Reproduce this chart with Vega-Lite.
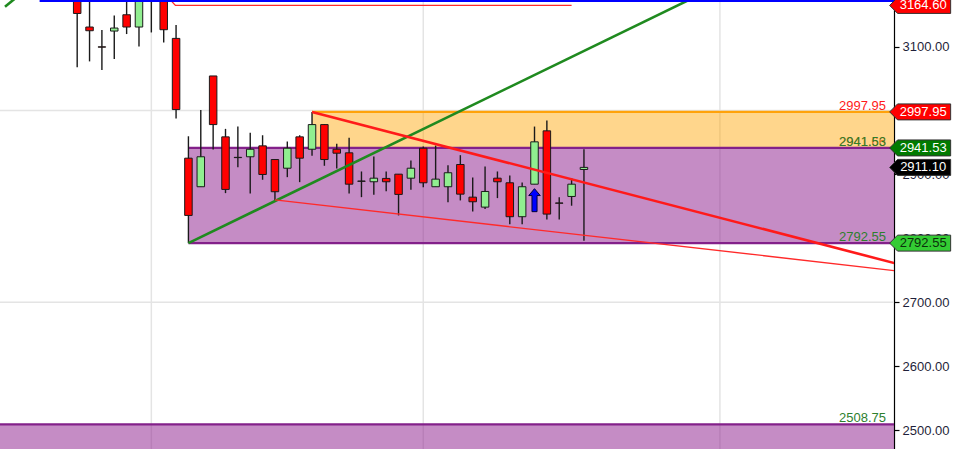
{
  "$schema": "https://vega.github.io/schema/vega-lite/v6.json",
  "width": 894,
  "height": 449,
  "autosize": {"type": "none"},
  "padding": {"left": 0, "top": 0, "right": 80, "bottom": 0},
  "background": "white",
  "config": {"view": {"stroke": null}, "font": "Liberation Sans"},
  "datasets": {
    "candles": [
      {"i": 0, "o": 3200, "h": 3215, "l": 3067.7, "c": 3152.0},
      {"i": 1, "o": 3130.8, "h": 3185, "l": 3077.0, "c": 3125.0},
      {"i": 2, "o": 3099.8, "h": 3126.1, "l": 3063.6, "c": 3099.3},
      {"i": 3, "o": 3124.5, "h": 3148.9, "l": 3080.8, "c": 3129.2},
      {"i": 4, "o": 3150.0, "h": 3180, "l": 3119.8, "c": 3130.8},
      {"i": 5, "o": 3130.8, "h": 3195, "l": 3100.5, "c": 3185},
      {"i": 6, "o": 3190, "h": 3200, "l": 3122.3, "c": 3180},
      {"i": 7, "o": 3190, "h": 3200, "l": 3106.7, "c": 3126.6},
      {"i": 8, "o": 3113.0, "h": 3133.9, "l": 2987.5, "c": 3001.6},
      {"i": 9, "o": 2925.5, "h": 2959.8, "l": 2792.55, "c": 2835.9},
      {"i": 10, "o": 2880.8, "h": 3001.1, "l": 2880.8, "c": 2927.7},
      {"i": 11, "o": 3054.2, "h": 3054.2, "l": 2939.1, "c": 2978.1},
      {"i": 12, "o": 2958.9, "h": 2971.4, "l": 2870.8, "c": 2876.6},
      {"i": 13, "o": 2926.8, "h": 2975.0, "l": 2911.4, "c": 2926.4},
      {"i": 14, "o": 2927.7, "h": 2965.2, "l": 2870.3, "c": 2939.5},
      {"i": 15, "o": 2944.8, "h": 2961.4, "l": 2891.7, "c": 2900.0},
      {"i": 16, "o": 2923.4, "h": 2923.4, "l": 2859.4, "c": 2873.0},
      {"i": 17, "o": 2909.8, "h": 2951.6, "l": 2895.8, "c": 2941.1},
      {"i": 18, "o": 2958.9, "h": 2961.4, "l": 2888.0, "c": 2925.5},
      {"i": 19, "o": 2939.5, "h": 2997.95, "l": 2929.2, "c": 2978.1},
      {"i": 20, "o": 2978.1, "h": 2978.5, "l": 2913.6, "c": 2923.4},
      {"i": 21, "o": 2939.5, "h": 2948.0, "l": 2909.4, "c": 2933.3},
      {"i": 22, "o": 2933.9, "h": 2957.3, "l": 2870.3, "c": 2884.8},
      {"i": 23, "o": 2889.7, "h": 2904.7, "l": 2864.5, "c": 2889.3},
      {"i": 24, "o": 2888.6, "h": 2928.1, "l": 2868.3, "c": 2894.2},
      {"i": 25, "o": 2893.8, "h": 2904.7, "l": 2873.9, "c": 2888.6},
      {"i": 26, "o": 2900.5, "h": 2900.5, "l": 2835.9, "c": 2868.8},
      {"i": 27, "o": 2894.2, "h": 2921.9, "l": 2876.1, "c": 2909.8},
      {"i": 28, "o": 2941.1, "h": 2943.75, "l": 2880.2, "c": 2887.0},
      {"i": 29, "o": 2880.8, "h": 2945.3, "l": 2880.8, "c": 2892.7},
      {"i": 30, "o": 2880.8, "h": 2914.5, "l": 2856.7, "c": 2902.7},
      {"i": 31, "o": 2915.6, "h": 2930.2, "l": 2859.4, "c": 2869.2},
      {"i": 32, "o": 2864.5, "h": 2895.3, "l": 2842.2, "c": 2857.3},
      {"i": 33, "o": 2848.9, "h": 2912.5, "l": 2845.8, "c": 2873.4},
      {"i": 34, "o": 2894.2, "h": 2904.7, "l": 2863.0, "c": 2888.6},
      {"i": 35, "o": 2887.0, "h": 2898.4, "l": 2821.9, "c": 2833.9},
      {"i": 36, "o": 2833.9, "h": 2887.5, "l": 2821.9, "c": 2880.8},
      {"i": 37, "o": 2884.8, "h": 2975.0, "l": 2884.8, "c": 2951.1},
      {"i": 38, "o": 2968.3, "h": 2984.4, "l": 2829.7, "c": 2838.0},
      {"i": 39, "o": 2855.4, "h": 2864.5, "l": 2829.7, "c": 2855.0},
      {"i": 40, "o": 2865.6, "h": 2894.2, "l": 2851.1, "c": 2884.8},
      {"i": 41, "o": 2907.8, "h": 2939.5, "l": 2796.4, "c": 2911.1}
    ],
    "vgrid": [{"i": 6}, {"i": 28}, {"i": 52}],
    "hgrid": [{"p": 3000}, {"p": 2700}],
    "zones": [
      {"name": "orange", "i1": 19, "i2": 70, "p1": 2941.53, "p2": 2997.95},
      {"name": "purple", "i1": 9, "i2": 70, "p1": 2792.55, "p2": 2941.53},
      {"name": "purple", "i1": -10, "i2": 70, "p1": 2400, "p2": 2508.75}
    ],
    "borders": [
      {"name": "orange", "i1": 19, "i2": 70, "p": 2997.95},
      {"name": "purple", "i1": 9, "i2": 70, "p": 2941.53},
      {"name": "purple", "i1": 9, "i2": 70, "p": 2792.55},
      {"name": "purple", "i1": -10, "i2": 70, "p": 2508.75}
    ],
    "lines": [
      {"name": "blue", "i": -3.04, "p": 3171.5},
      {"name": "blue", "i": 70, "p": 3171.5},
      {"name": "redtop", "i": 7.5, "p": 3174},
      {"name": "redtop", "i": 7.95, "p": 3164.6},
      {"name": "redtop", "i": 40, "p": 3164.6},
      {"name": "green", "i": 9, "p": 2792.55},
      {"name": "green", "i": 50, "p": 3177.95},
      {"name": "green0", "i": -5.84, "p": 3162.6},
      {"name": "green0", "i": -4.5, "p": 3183.8},
      {"name": "redthick", "i": 19, "p": 2997.95},
      {"name": "redthick", "i": 70, "p": 2741.8},
      {"name": "redthin", "i": 16, "p": 2860.1},
      {"name": "redthin", "i": 70, "p": 2741.0}
    ],
    "arrows": [{"i": 37, "p": 2859.8}],
    "tags": [
      {"label": "2997.95", "p": 2997.95, "kind": "red"},
      {"label": "2941.66", "p": 2941.66, "kind": "orange"},
      {"label": "2941.53", "p": 2941.53, "kind": "green"},
      {"label": "2792.55", "p": 2792.55, "kind": "green"},
      {"label": "2508.75", "p": 2508.75, "kind": "green"}
    ],
    "badges": [
      {"label": "3164.60", "p": 3164.6, "kind": "red"},
      {"label": "2997.95", "p": 2997.95, "kind": "red"},
      {"label": "2941.53", "p": 2941.53, "kind": "dkgreen"},
      {"label": "2911.10", "p": 2911.1, "kind": "black"},
      {"label": "2792.55", "p": 2792.55, "kind": "ltgreen"}
    ]
  },
  "layer": [
    {
      "data": {"name": "vgrid"},
      "mark": {"type": "rule", "color": "#e4e4e4", "strokeWidth": 1.5},
      "encoding": {
        "x": {"field": "i", "type": "quantitative", "scale": {"domain": [-5.84, 65.68], "nice": false, "zero": false}, "axis": null}
      }
    },
    {
      "data": {"name": "hgrid"},
      "mark": {"type": "rule", "color": "#e4e4e4", "strokeWidth": 1.5},
      "encoding": {
        "y": {"field": "p", "type": "quantitative", "title": null,
          "scale": {"domain": [2470.3, 3173.1], "nice": false, "zero": false},
          "axis": {"orient": "right", "values": [2500, 2600, 2700, 2800, 2900, 3000, 3100], "format": ".2f", "title": null, "grid": false,
            "labelFontSize": 13, "labelColor": "#1f1f3a", "labelFont": "Liberation Sans", "labelPadding": 3,
            "tickColor": "#000000", "tickSize": 5, "tickWidth": 1.2, "domainColor": "#000000", "domainWidth": 1.2}}
      }
    },
    {
      "data": {"name": "zones"},
      "mark": {"type": "rect", "clip": true},
      "encoding": {
        "x": {"field": "i1", "type": "quantitative", "scale": {"domain": [-5.84, 65.68], "nice": false, "zero": false}, "axis": null},
        "x2": {"field": "i2"},
        "y": {"field": "p1", "type": "quantitative", "title": null, "scale": {"domain": [2470.3, 3173.1], "nice": false, "zero": false}},
        "y2": {"field": "p2"},
        "fill": {"condition": {"test": "datum.name === 'orange'", "value": "#FFA500"}, "value": "#8B1A8B"},
        "fillOpacity": {"condition": {"test": "datum.name === 'orange'", "value": 0.45}, "value": 0.5}
      }
    },
    {
      "data": {"name": "borders"},
      "mark": {"type": "rule", "clip": true, "strokeWidth": 2.2},
      "encoding": {
        "x": {"field": "i1", "type": "quantitative", "scale": {"domain": [-5.84, 65.68], "nice": false, "zero": false}, "axis": null},
        "x2": {"field": "i2"},
        "y": {"field": "p", "type": "quantitative", "title": null, "scale": {"domain": [2470.3, 3173.1], "nice": false, "zero": false}},
        "color": {"condition": {"test": "datum.name === 'orange'", "value": "#FFA20A"}, "value": "#83208A"}
      }
    },
    {
      "data": {"name": "candles"},
      "mark": {"type": "rule", "color": "#1a1a1a", "strokeWidth": 1.4, "clip": true},
      "encoding": {
        "x": {"field": "i", "type": "quantitative", "scale": {"domain": [-5.84, 65.68], "nice": false, "zero": false}, "axis": null},
        "y": {"field": "l", "type": "quantitative", "title": null, "scale": {"domain": [2470.3, 3173.1], "nice": false, "zero": false}},
        "y2": {"field": "h"}
      }
    },
    {
      "data": {"name": "candles"},
      "mark": {"type": "bar", "width": 7.5, "stroke": "#1a1a1a", "strokeWidth": 1, "clip": true},
      "encoding": {
        "x": {"field": "i", "type": "quantitative", "scale": {"domain": [-5.84, 65.68], "nice": false, "zero": false}, "axis": null},
        "y": {"field": "o", "type": "quantitative", "title": null, "scale": {"domain": [2470.3, 3173.1], "nice": false, "zero": false}},
        "y2": {"field": "c"},
        "fill": {"condition": {"test": "datum.c > datum.o", "value": "#90EE90"}, "value": "#FF0000"}
      }
    },
    {
      "data": {"name": "lines"},
      "transform": [{"filter": "datum.name === 'green' || datum.name === 'green0'"}],
      "mark": {"type": "line", "color": "#1F8A1F", "strokeWidth": 2.6, "clip": true},
      "encoding": {
        "x": {"field": "i", "type": "quantitative", "scale": {"domain": [-5.84, 65.68], "nice": false, "zero": false}, "axis": null},
        "y": {"field": "p", "type": "quantitative", "title": null, "scale": {"domain": [2470.3, 3173.1], "nice": false, "zero": false}},
        "detail": {"field": "name"}
      }
    },
    {
      "data": {"name": "lines"},
      "transform": [{"filter": "datum.name === 'redthick'"}],
      "mark": {"type": "line", "color": "#FF1A1A", "strokeWidth": 2.6, "clip": true},
      "encoding": {
        "x": {"field": "i", "type": "quantitative", "scale": {"domain": [-5.84, 65.68], "nice": false, "zero": false}, "axis": null},
        "y": {"field": "p", "type": "quantitative", "title": null, "scale": {"domain": [2470.3, 3173.1], "nice": false, "zero": false}}
      }
    },
    {
      "data": {"name": "lines"},
      "transform": [{"filter": "datum.name === 'redthin' || datum.name === 'redtop'"}],
      "mark": {"type": "line", "color": "#FF2A2A", "strokeWidth": 1.3, "clip": true},
      "encoding": {
        "x": {"field": "i", "type": "quantitative", "scale": {"domain": [-5.84, 65.68], "nice": false, "zero": false}, "axis": null},
        "y": {"field": "p", "type": "quantitative", "title": null, "scale": {"domain": [2470.3, 3173.1], "nice": false, "zero": false}},
        "detail": {"field": "name"}
      }
    },
    {
      "data": {"name": "lines"},
      "transform": [{"filter": "datum.name === 'blue'"}],
      "mark": {"type": "line", "color": "#0000FF", "strokeWidth": 2.2, "clip": true},
      "encoding": {
        "x": {"field": "i", "type": "quantitative", "scale": {"domain": [-5.84, 65.68], "nice": false, "zero": false}, "axis": null},
        "y": {"field": "p", "type": "quantitative", "title": null, "scale": {"domain": [2470.3, 3173.1], "nice": false, "zero": false}}
      }
    },
    {
      "data": {"name": "arrows"},
      "mark": {"type": "point", "filled": true, "shape": "M0,-1L0.5,-0.4L0.22,-0.4L0.22,1L-0.22,1L-0.22,-0.4L-0.5,-0.4Z", "size": 529, "fill": "#0000FF", "stroke": "#00003A", "strokeWidth": 1, "opacity": 1},
      "encoding": {
        "x": {"field": "i", "type": "quantitative", "scale": {"domain": [-5.84, 65.68], "nice": false, "zero": false}, "axis": null},
        "y": {"field": "p", "type": "quantitative", "title": null, "scale": {"domain": [2470.3, 3173.1], "nice": false, "zero": false}}
      }
    },
    {
      "data": {"name": "tags"},
      "mark": {"type": "text", "align": "right", "baseline": "alphabetic", "dy": -2, "fontSize": 13, "font": "Liberation Sans"},
      "encoding": {
        "x": {"datum": 65.44, "type": "quantitative", "scale": {"domain": [-5.84, 65.68], "nice": false, "zero": false}, "axis": null},
        "y": {"field": "p", "type": "quantitative", "title": null, "scale": {"domain": [2470.3, 3173.1], "nice": false, "zero": false}},
        "text": {"field": "label"},
        "color": {"condition": [{"test": "datum.kind === 'red'", "value": "#FF1A1A"}, {"test": "datum.kind === 'orange'", "value": "#E0701A"}], "value": "#2E7F2E"}
      }
    },
    {
      "data": {"name": "badges"},
      "mark": {"type": "point", "filled": true, "shape": "M-1,0L-0.74,-0.262L1,-0.262L1,0.262L-0.74,0.262Z", "size": 3721, "stroke": "#333333", "strokeWidth": 1, "opacity": 1},
      "encoding": {
        "x": {"datum": 68.2, "type": "quantitative", "scale": {"domain": [-5.84, 65.68], "nice": false, "zero": false}, "axis": null},
        "y": {"field": "p", "type": "quantitative", "title": null, "scale": {"domain": [2470.3, 3173.1], "nice": false, "zero": false}},
        "fill": {"field": "kind", "type": "nominal", "legend": null,
          "scale": {"domain": ["red", "dkgreen", "black", "ltgreen"], "range": ["#FF0000", "#007A00", "#000000", "#33CC33"]}}
      }
    },
    {
      "data": {"name": "badges"},
      "mark": {"type": "text", "align": "center", "baseline": "middle", "dx": 3, "fontSize": 13, "font": "Liberation Sans"},
      "encoding": {
        "x": {"datum": 68.2, "type": "quantitative", "scale": {"domain": [-5.84, 65.68], "nice": false, "zero": false}, "axis": null},
        "y": {"field": "p", "type": "quantitative", "title": null, "scale": {"domain": [2470.3, 3173.1], "nice": false, "zero": false}},
        "text": {"field": "label"},
        "color": {"condition": {"test": "datum.kind === 'ltgreen'", "value": "#0B300B"}, "value": "#FFFFFF"}
      }
    }
  ]
}
